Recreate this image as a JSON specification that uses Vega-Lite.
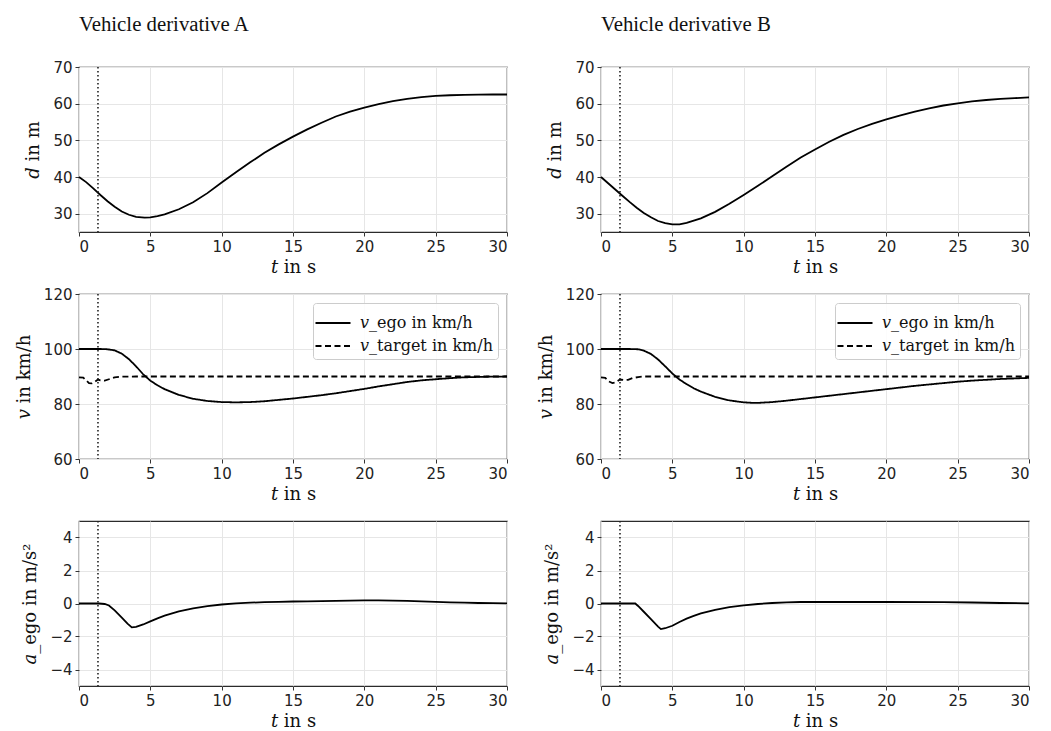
{
  "$schema": "https://vega.github.io/schema/vega-lite/v6.json",
  "background": "white",
  "padding": {"left": 14, "top": 13, "right": 5, "bottom": 0},
  "config": {
    "view": {"stroke": "#2b2b2b", "strokeWidth": 1.2},
    "axis": {
      "labelFont": "DejaVu Sans", "labelFontSize": 15, "labelColor": "#222222",
      "titleFont": "DejaVu Serif", "titleFontSize": 18, "titleFontWeight": "normal", "titleColor": "#111111",
      "gridColor": "#e6e6e6", "gridWidth": 1, "tickColor": "#333333", "tickSize": 4, "tickWidth": 1,
      "domain": false, "labelPadding": 3
    },
    "axisX": {"titlePadding": 4},
    "axisY": {"titlePadding": 10},
    "legend": {
      "orient": "top-right", "offset": 9, "title": null,
      "labelFont": "DejaVu Serif", "labelFontSize": 16, "labelColor": "#111111",
      "symbolType": "M-1.25,0H1.25", "symbolSize": 784, "symbolStrokeWidth": 2, "symbolStrokeColor": "black",
      "strokeColor": "#cccccc", "fillColor": "rgba(255,255,255,0.85)", "cornerRadius": 3,
      "padding": 5, "rowPadding": 0, "labelOffset": 12
    }
  },
  "datasets": {
    "event": [{"t": 1.33}],
    "d": [
      {"veh": "A", "t": 0, "y": 40}, {"veh": "A", "t": 0.5, "y": 38.6}, {"veh": "A", "t": 1, "y": 36.9}, {"veh": "A", "t": 1.5, "y": 35.1},
      {"veh": "A", "t": 2, "y": 33.4}, {"veh": "A", "t": 2.5, "y": 31.9}, {"veh": "A", "t": 3, "y": 30.6}, {"veh": "A", "t": 3.5, "y": 29.7},
      {"veh": "A", "t": 4, "y": 29.1}, {"veh": "A", "t": 4.6, "y": 28.9}, {"veh": "A", "t": 5, "y": 29.0}, {"veh": "A", "t": 5.5, "y": 29.3},
      {"veh": "A", "t": 6, "y": 29.8}, {"veh": "A", "t": 7, "y": 31.2}, {"veh": "A", "t": 8, "y": 33.1}, {"veh": "A", "t": 9, "y": 35.6},
      {"veh": "A", "t": 10, "y": 38.5}, {"veh": "A", "t": 11, "y": 41.3}, {"veh": "A", "t": 12, "y": 44.0}, {"veh": "A", "t": 13, "y": 46.6},
      {"veh": "A", "t": 14, "y": 48.9}, {"veh": "A", "t": 15, "y": 51.0}, {"veh": "A", "t": 16, "y": 53.0}, {"veh": "A", "t": 17, "y": 54.8},
      {"veh": "A", "t": 18, "y": 56.5}, {"veh": "A", "t": 19, "y": 57.8}, {"veh": "A", "t": 20, "y": 58.9}, {"veh": "A", "t": 21, "y": 59.9},
      {"veh": "A", "t": 22, "y": 60.7}, {"veh": "A", "t": 23, "y": 61.3}, {"veh": "A", "t": 24, "y": 61.8}, {"veh": "A", "t": 25, "y": 62.1},
      {"veh": "A", "t": 26, "y": 62.3}, {"veh": "A", "t": 27, "y": 62.4}, {"veh": "A", "t": 28, "y": 62.45}, {"veh": "A", "t": 29, "y": 62.5},
      {"veh": "A", "t": 30, "y": 62.5},
      {"veh": "B", "t": 0, "y": 40}, {"veh": "B", "t": 0.5, "y": 38.3}, {"veh": "B", "t": 1, "y": 36.6}, {"veh": "B", "t": 1.5, "y": 34.9},
      {"veh": "B", "t": 2, "y": 33.2}, {"veh": "B", "t": 2.5, "y": 31.6}, {"veh": "B", "t": 3, "y": 30.2}, {"veh": "B", "t": 3.5, "y": 29.0},
      {"veh": "B", "t": 4, "y": 28.0}, {"veh": "B", "t": 4.5, "y": 27.4}, {"veh": "B", "t": 5, "y": 27.1}, {"veh": "B", "t": 5.5, "y": 27.1},
      {"veh": "B", "t": 6, "y": 27.5}, {"veh": "B", "t": 7, "y": 28.7}, {"veh": "B", "t": 8, "y": 30.5}, {"veh": "B", "t": 9, "y": 32.7},
      {"veh": "B", "t": 10, "y": 35.1}, {"veh": "B", "t": 11, "y": 37.6}, {"veh": "B", "t": 12, "y": 40.2}, {"veh": "B", "t": 13, "y": 42.8},
      {"veh": "B", "t": 14, "y": 45.3}, {"veh": "B", "t": 15, "y": 47.5}, {"veh": "B", "t": 16, "y": 49.6}, {"veh": "B", "t": 17, "y": 51.5},
      {"veh": "B", "t": 18, "y": 53.1}, {"veh": "B", "t": 19, "y": 54.5}, {"veh": "B", "t": 20, "y": 55.7}, {"veh": "B", "t": 21, "y": 56.8},
      {"veh": "B", "t": 22, "y": 57.8}, {"veh": "B", "t": 23, "y": 58.7}, {"veh": "B", "t": 24, "y": 59.5}, {"veh": "B", "t": 25, "y": 60.1},
      {"veh": "B", "t": 26, "y": 60.6}, {"veh": "B", "t": 27, "y": 61.0}, {"veh": "B", "t": 28, "y": 61.3}, {"veh": "B", "t": 29, "y": 61.5},
      {"veh": "B", "t": 30, "y": 61.7}
    ],
    "v": [
      {"veh": "A", "s": "𝑣_ego in km/h", "t": 0, "y": 100}, {"veh": "A", "s": "𝑣_ego in km/h", "t": 1.5, "y": 100},
      {"veh": "A", "s": "𝑣_ego in km/h", "t": 2, "y": 99.9}, {"veh": "A", "s": "𝑣_ego in km/h", "t": 2.5, "y": 99.5},
      {"veh": "A", "s": "𝑣_ego in km/h", "t": 3, "y": 98.3}, {"veh": "A", "s": "𝑣_ego in km/h", "t": 3.5, "y": 96.3},
      {"veh": "A", "s": "𝑣_ego in km/h", "t": 4, "y": 93.7}, {"veh": "A", "s": "𝑣_ego in km/h", "t": 4.5, "y": 90.8},
      {"veh": "A", "s": "𝑣_ego in km/h", "t": 5, "y": 88.5}, {"veh": "A", "s": "𝑣_ego in km/h", "t": 5.5, "y": 86.8},
      {"veh": "A", "s": "𝑣_ego in km/h", "t": 6, "y": 85.4}, {"veh": "A", "s": "𝑣_ego in km/h", "t": 7, "y": 83.3},
      {"veh": "A", "s": "𝑣_ego in km/h", "t": 8, "y": 81.9}, {"veh": "A", "s": "𝑣_ego in km/h", "t": 9, "y": 81.1},
      {"veh": "A", "s": "𝑣_ego in km/h", "t": 10, "y": 80.7}, {"veh": "A", "s": "𝑣_ego in km/h", "t": 11, "y": 80.6},
      {"veh": "A", "s": "𝑣_ego in km/h", "t": 12, "y": 80.7}, {"veh": "A", "s": "𝑣_ego in km/h", "t": 13, "y": 81.0},
      {"veh": "A", "s": "𝑣_ego in km/h", "t": 14, "y": 81.5}, {"veh": "A", "s": "𝑣_ego in km/h", "t": 15, "y": 82.0},
      {"veh": "A", "s": "𝑣_ego in km/h", "t": 16, "y": 82.6}, {"veh": "A", "s": "𝑣_ego in km/h", "t": 17, "y": 83.2},
      {"veh": "A", "s": "𝑣_ego in km/h", "t": 18, "y": 83.9}, {"veh": "A", "s": "𝑣_ego in km/h", "t": 19, "y": 84.7},
      {"veh": "A", "s": "𝑣_ego in km/h", "t": 20, "y": 85.5}, {"veh": "A", "s": "𝑣_ego in km/h", "t": 21, "y": 86.4},
      {"veh": "A", "s": "𝑣_ego in km/h", "t": 22, "y": 87.2}, {"veh": "A", "s": "𝑣_ego in km/h", "t": 23, "y": 88.0},
      {"veh": "A", "s": "𝑣_ego in km/h", "t": 24, "y": 88.6}, {"veh": "A", "s": "𝑣_ego in km/h", "t": 25, "y": 89.0},
      {"veh": "A", "s": "𝑣_ego in km/h", "t": 26, "y": 89.4}, {"veh": "A", "s": "𝑣_ego in km/h", "t": 27, "y": 89.7},
      {"veh": "A", "s": "𝑣_ego in km/h", "t": 28, "y": 89.85}, {"veh": "A", "s": "𝑣_ego in km/h", "t": 29, "y": 89.95},
      {"veh": "A", "s": "𝑣_ego in km/h", "t": 30, "y": 90.0},
      {"veh": "A", "s": "𝑣_target in km/h", "t": 0, "y": 89.7}, {"veh": "A", "s": "𝑣_target in km/h", "t": 0.3, "y": 89.6},
      {"veh": "A", "s": "𝑣_target in km/h", "t": 0.5, "y": 88.6}, {"veh": "A", "s": "𝑣_target in km/h", "t": 0.7, "y": 87.6},
      {"veh": "A", "s": "𝑣_target in km/h", "t": 0.9, "y": 87.5}, {"veh": "A", "s": "𝑣_target in km/h", "t": 1.1, "y": 88.0},
      {"veh": "A", "s": "𝑣_target in km/h", "t": 1.33, "y": 88.9}, {"veh": "A", "s": "𝑣_target in km/h", "t": 1.5, "y": 88.6},
      {"veh": "A", "s": "𝑣_target in km/h", "t": 1.8, "y": 88.5}, {"veh": "A", "s": "𝑣_target in km/h", "t": 2.1, "y": 89.0},
      {"veh": "A", "s": "𝑣_target in km/h", "t": 2.5, "y": 89.7}, {"veh": "A", "s": "𝑣_target in km/h", "t": 3, "y": 89.95},
      {"veh": "A", "s": "𝑣_target in km/h", "t": 4, "y": 90}, {"veh": "A", "s": "𝑣_target in km/h", "t": 30, "y": 90},
      {"veh": "B", "s": "𝑣_ego in km/h", "t": 0, "y": 100}, {"veh": "B", "s": "𝑣_ego in km/h", "t": 2, "y": 100},
      {"veh": "B", "s": "𝑣_ego in km/h", "t": 2.6, "y": 99.9}, {"veh": "B", "s": "𝑣_ego in km/h", "t": 3, "y": 99.4},
      {"veh": "B", "s": "𝑣_ego in km/h", "t": 3.5, "y": 98.2}, {"veh": "B", "s": "𝑣_ego in km/h", "t": 4, "y": 96.2},
      {"veh": "B", "s": "𝑣_ego in km/h", "t": 4.5, "y": 93.7}, {"veh": "B", "s": "𝑣_ego in km/h", "t": 5, "y": 91.1},
      {"veh": "B", "s": "𝑣_ego in km/h", "t": 5.5, "y": 88.9}, {"veh": "B", "s": "𝑣_ego in km/h", "t": 6, "y": 87.2},
      {"veh": "B", "s": "𝑣_ego in km/h", "t": 6.5, "y": 85.7}, {"veh": "B", "s": "𝑣_ego in km/h", "t": 7, "y": 84.5},
      {"veh": "B", "s": "𝑣_ego in km/h", "t": 8, "y": 82.6}, {"veh": "B", "s": "𝑣_ego in km/h", "t": 9, "y": 81.3},
      {"veh": "B", "s": "𝑣_ego in km/h", "t": 10, "y": 80.6}, {"veh": "B", "s": "𝑣_ego in km/h", "t": 10.7, "y": 80.4},
      {"veh": "B", "s": "𝑣_ego in km/h", "t": 11, "y": 80.4}, {"veh": "B", "s": "𝑣_ego in km/h", "t": 12, "y": 80.7},
      {"veh": "B", "s": "𝑣_ego in km/h", "t": 13, "y": 81.2}, {"veh": "B", "s": "𝑣_ego in km/h", "t": 14, "y": 81.8},
      {"veh": "B", "s": "𝑣_ego in km/h", "t": 15, "y": 82.4}, {"veh": "B", "s": "𝑣_ego in km/h", "t": 16, "y": 83.0},
      {"veh": "B", "s": "𝑣_ego in km/h", "t": 17, "y": 83.6}, {"veh": "B", "s": "𝑣_ego in km/h", "t": 18, "y": 84.2},
      {"veh": "B", "s": "𝑣_ego in km/h", "t": 19, "y": 84.8}, {"veh": "B", "s": "𝑣_ego in km/h", "t": 20, "y": 85.4},
      {"veh": "B", "s": "𝑣_ego in km/h", "t": 21, "y": 86.0}, {"veh": "B", "s": "𝑣_ego in km/h", "t": 22, "y": 86.6},
      {"veh": "B", "s": "𝑣_ego in km/h", "t": 23, "y": 87.1}, {"veh": "B", "s": "𝑣_ego in km/h", "t": 24, "y": 87.6},
      {"veh": "B", "s": "𝑣_ego in km/h", "t": 25, "y": 88.1}, {"veh": "B", "s": "𝑣_ego in km/h", "t": 26, "y": 88.5},
      {"veh": "B", "s": "𝑣_ego in km/h", "t": 27, "y": 88.8}, {"veh": "B", "s": "𝑣_ego in km/h", "t": 28, "y": 89.1},
      {"veh": "B", "s": "𝑣_ego in km/h", "t": 29, "y": 89.3}, {"veh": "B", "s": "𝑣_ego in km/h", "t": 30, "y": 89.5},
      {"veh": "B", "s": "𝑣_target in km/h", "t": 0, "y": 89.7}, {"veh": "B", "s": "𝑣_target in km/h", "t": 0.3, "y": 89.5},
      {"veh": "B", "s": "𝑣_target in km/h", "t": 0.55, "y": 88.2}, {"veh": "B", "s": "𝑣_target in km/h", "t": 0.8, "y": 87.6},
      {"veh": "B", "s": "𝑣_target in km/h", "t": 1.0, "y": 87.8}, {"veh": "B", "s": "𝑣_target in km/h", "t": 1.33, "y": 88.9},
      {"veh": "B", "s": "𝑣_target in km/h", "t": 1.6, "y": 88.7}, {"veh": "B", "s": "𝑣_target in km/h", "t": 1.9, "y": 88.8},
      {"veh": "B", "s": "𝑣_target in km/h", "t": 2.2, "y": 89.4}, {"veh": "B", "s": "𝑣_target in km/h", "t": 2.6, "y": 89.8},
      {"veh": "B", "s": "𝑣_target in km/h", "t": 3, "y": 90}, {"veh": "B", "s": "𝑣_target in km/h", "t": 30, "y": 90}
    ],
    "a": [
      {"veh": "A", "t": 0, "y": 0}, {"veh": "A", "t": 1.4, "y": 0}, {"veh": "A", "t": 1.8, "y": -0.03}, {"veh": "A", "t": 2.1, "y": -0.12},
      {"veh": "A", "t": 2.5, "y": -0.42}, {"veh": "A", "t": 3, "y": -0.85}, {"veh": "A", "t": 3.4, "y": -1.22}, {"veh": "A", "t": 3.7, "y": -1.45},
      {"veh": "A", "t": 4, "y": -1.42}, {"veh": "A", "t": 4.5, "y": -1.27}, {"veh": "A", "t": 5, "y": -1.08}, {"veh": "A", "t": 5.5, "y": -0.9},
      {"veh": "A", "t": 6, "y": -0.74}, {"veh": "A", "t": 7, "y": -0.48}, {"veh": "A", "t": 8, "y": -0.3}, {"veh": "A", "t": 9, "y": -0.16},
      {"veh": "A", "t": 10, "y": -0.06}, {"veh": "A", "t": 11, "y": 0.01}, {"veh": "A", "t": 12, "y": 0.05}, {"veh": "A", "t": 13, "y": 0.08},
      {"veh": "A", "t": 14, "y": 0.1}, {"veh": "A", "t": 15, "y": 0.12}, {"veh": "A", "t": 16, "y": 0.13}, {"veh": "A", "t": 17, "y": 0.15},
      {"veh": "A", "t": 18, "y": 0.16}, {"veh": "A", "t": 19, "y": 0.17}, {"veh": "A", "t": 20, "y": 0.19}, {"veh": "A", "t": 21, "y": 0.19},
      {"veh": "A", "t": 22, "y": 0.18}, {"veh": "A", "t": 23, "y": 0.16}, {"veh": "A", "t": 24, "y": 0.13}, {"veh": "A", "t": 25, "y": 0.1},
      {"veh": "A", "t": 26, "y": 0.07}, {"veh": "A", "t": 27, "y": 0.05}, {"veh": "A", "t": 28, "y": 0.03}, {"veh": "A", "t": 29, "y": 0.02},
      {"veh": "A", "t": 30, "y": 0.01},
      {"veh": "B", "t": 0, "y": 0}, {"veh": "B", "t": 2.4, "y": 0}, {"veh": "B", "t": 2.6, "y": -0.15}, {"veh": "B", "t": 3, "y": -0.5},
      {"veh": "B", "t": 3.5, "y": -0.95}, {"veh": "B", "t": 4, "y": -1.4}, {"veh": "B", "t": 4.2, "y": -1.55}, {"veh": "B", "t": 4.5, "y": -1.5},
      {"veh": "B", "t": 5, "y": -1.35}, {"veh": "B", "t": 5.5, "y": -1.12}, {"veh": "B", "t": 6, "y": -0.92}, {"veh": "B", "t": 6.5, "y": -0.75},
      {"veh": "B", "t": 7, "y": -0.6}, {"veh": "B", "t": 8, "y": -0.38}, {"veh": "B", "t": 9, "y": -0.22}, {"veh": "B", "t": 10, "y": -0.11},
      {"veh": "B", "t": 11, "y": -0.03}, {"veh": "B", "t": 12, "y": 0.03}, {"veh": "B", "t": 13, "y": 0.07}, {"veh": "B", "t": 14, "y": 0.09},
      {"veh": "B", "t": 15, "y": 0.09}, {"veh": "B", "t": 20, "y": 0.09}, {"veh": "B", "t": 24, "y": 0.08}, {"veh": "B", "t": 26, "y": 0.06},
      {"veh": "B", "t": 28, "y": 0.03}, {"veh": "B", "t": 30, "y": 0.01}
    ]
  },
  "columns": 2,
  "spacing": {"row": 62, "column": 94},
  "bounds": "flush",
  "resolve": {"scale": {"strokeDash": "independent"}, "legend": {"strokeDash": "independent"}},
  "concat": [
    {
      "width": 428, "height": 165,
      "title": {"text": "Vehicle derivative A", "anchor": "start", "frame": "group", "font": "Liberation Serif", "fontSize": 20.8, "fontWeight": "normal", "color": "#111111", "offset": 24},
      "layer": [
        {"data": {"name": "d"}, "transform": [{"filter": "datum.veh === 'A'"}],
         "mark": {"type": "line", "color": "black", "strokeWidth": 1.8},
         "encoding": {
           "x": {"field": "t", "type": "quantitative", "scale": {"domain": [0, 30], "nice": false}, "axis": {"values": [0, 5, 10, 15, 20, 25, 30], "title": "𝑡 in s"}},
           "y": {"field": "y", "type": "quantitative", "scale": {"domain": [25, 70], "nice": false, "zero": false}, "axis": {"values": [30, 40, 50, 60, 70], "title": "𝑑 in m"}}
         }},
        {"data": {"name": "event"}, "mark": {"type": "rule", "color": "#222222", "strokeWidth": 1.6, "strokeDash": [1.5, 2.5]},
         "encoding": {"x": {"field": "t", "type": "quantitative"}}}
      ]
    },
    {
      "width": 428, "height": 165,
      "title": {"text": "Vehicle derivative B", "anchor": "start", "frame": "group", "font": "Liberation Serif", "fontSize": 20.8, "fontWeight": "normal", "color": "#111111", "offset": 24},
      "layer": [
        {"data": {"name": "d"}, "transform": [{"filter": "datum.veh === 'B'"}],
         "mark": {"type": "line", "color": "black", "strokeWidth": 1.8},
         "encoding": {
           "x": {"field": "t", "type": "quantitative", "scale": {"domain": [0, 30], "nice": false}, "axis": {"values": [0, 5, 10, 15, 20, 25, 30], "title": "𝑡 in s"}},
           "y": {"field": "y", "type": "quantitative", "scale": {"domain": [25, 70], "nice": false, "zero": false}, "axis": {"values": [30, 40, 50, 60, 70], "title": "𝑑 in m"}}
         }},
        {"data": {"name": "event"}, "mark": {"type": "rule", "color": "#222222", "strokeWidth": 1.6, "strokeDash": [1.5, 2.5]},
         "encoding": {"x": {"field": "t", "type": "quantitative"}}}
      ]
    },
    {
      "width": 428, "height": 165,
      "layer": [
        {"data": {"name": "v"}, "transform": [{"filter": "datum.veh === 'A'"}],
         "mark": {"type": "line", "color": "black", "strokeWidth": 1.8},
         "encoding": {
           "x": {"field": "t", "type": "quantitative", "scale": {"domain": [0, 30], "nice": false}, "axis": {"values": [0, 5, 10, 15, 20, 25, 30], "title": "𝑡 in s"}},
           "y": {"field": "y", "type": "quantitative", "scale": {"domain": [60, 120], "nice": false, "zero": false}, "axis": {"values": [60, 80, 100, 120], "title": "𝑣 in km/h"}},
           "strokeDash": {"field": "s", "type": "nominal", "scale": {"domain": ["𝑣_ego in km/h", "𝑣_target in km/h"], "range": [[1, 0], [6, 3.5]]}}
         }},
        {"data": {"name": "event"}, "mark": {"type": "rule", "color": "#222222", "strokeWidth": 1.6, "strokeDash": [1.5, 2.5]},
         "encoding": {"x": {"field": "t", "type": "quantitative"}}}
      ]
    },
    {
      "width": 428, "height": 165,
      "layer": [
        {"data": {"name": "v"}, "transform": [{"filter": "datum.veh === 'B'"}],
         "mark": {"type": "line", "color": "black", "strokeWidth": 1.8},
         "encoding": {
           "x": {"field": "t", "type": "quantitative", "scale": {"domain": [0, 30], "nice": false}, "axis": {"values": [0, 5, 10, 15, 20, 25, 30], "title": "𝑡 in s"}},
           "y": {"field": "y", "type": "quantitative", "scale": {"domain": [60, 120], "nice": false, "zero": false}, "axis": {"values": [60, 80, 100, 120], "title": "𝑣 in km/h"}},
           "strokeDash": {"field": "s", "type": "nominal", "scale": {"domain": ["𝑣_ego in km/h", "𝑣_target in km/h"], "range": [[1, 0], [6, 3.5]]}}
         }},
        {"data": {"name": "event"}, "mark": {"type": "rule", "color": "#222222", "strokeWidth": 1.6, "strokeDash": [1.5, 2.5]},
         "encoding": {"x": {"field": "t", "type": "quantitative"}}}
      ]
    },
    {
      "width": 428, "height": 165,
      "layer": [
        {"data": {"name": "a"}, "transform": [{"filter": "datum.veh === 'A'"}],
         "mark": {"type": "line", "color": "black", "strokeWidth": 1.8},
         "encoding": {
           "x": {"field": "t", "type": "quantitative", "scale": {"domain": [0, 30], "nice": false}, "axis": {"values": [0, 5, 10, 15, 20, 25, 30], "title": "𝑡 in s"}},
           "y": {"field": "y", "type": "quantitative", "scale": {"domain": [-5, 5], "nice": false}, "axis": {"values": [-4, -2, 0, 2, 4], "title": "𝑎_ego in m/s²"}}
         }},
        {"data": {"name": "event"}, "mark": {"type": "rule", "color": "#222222", "strokeWidth": 1.6, "strokeDash": [1.5, 2.5]},
         "encoding": {"x": {"field": "t", "type": "quantitative"}}}
      ]
    },
    {
      "width": 428, "height": 165,
      "layer": [
        {"data": {"name": "a"}, "transform": [{"filter": "datum.veh === 'B'"}],
         "mark": {"type": "line", "color": "black", "strokeWidth": 1.8},
         "encoding": {
           "x": {"field": "t", "type": "quantitative", "scale": {"domain": [0, 30], "nice": false}, "axis": {"values": [0, 5, 10, 15, 20, 25, 30], "title": "𝑡 in s"}},
           "y": {"field": "y", "type": "quantitative", "scale": {"domain": [-5, 5], "nice": false}, "axis": {"values": [-4, -2, 0, 2, 4], "title": "𝑎_ego in m/s²"}}
         }},
        {"data": {"name": "event"}, "mark": {"type": "rule", "color": "#222222", "strokeWidth": 1.6, "strokeDash": [1.5, 2.5]},
         "encoding": {"x": {"field": "t", "type": "quantitative"}}}
      ]
    }
  ]
}
